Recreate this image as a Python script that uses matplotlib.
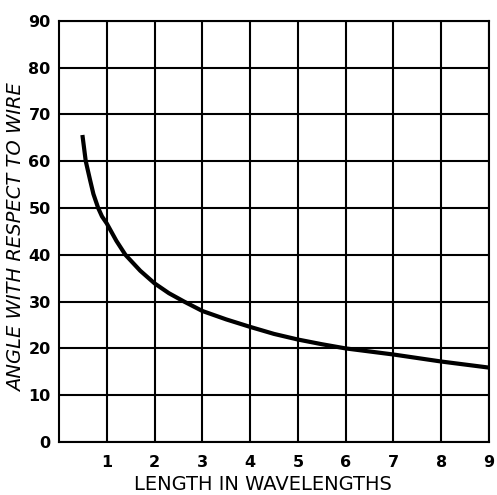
import matplotlib.pyplot as plt

# Values
length = [0.49, 0.56, 0.65, 0.72, 0.82, 0.9, 1.0, 1.2, 1.39, 1.7, 2.0, 2.3, 2.62, 3.0, 3.5, 4.0, 4.5, 5.0, 5.5, 6.0, 7.0, 8.0, 9.0]
angle = [65.6, 60.0, 56.0, 53.0, 50.0, 48.2, 46.7, 43.0, 40.0, 36.6, 33.9, 31.8, 30.0, 28.0, 26.2, 24.6, 23.1, 21.9, 20.9, 20.0, 18.7, 17.2, 15.9]

x_ticks = [1, 2, 3, 4, 5, 6, 7, 8, 9]
y_ticks = [0, 10, 20, 30, 40, 50, 60, 70, 80, 90]

fig = plt.figure(figsize=(4.97, 4.95), dpi=100)
ax = fig.add_axes([0.1187, 0.107, 0.8653, 0.851])

ax.plot(length, angle, color='black', linewidth=3, solid_capstyle='butt',
        solid_joinstyle='round')

ax.set_xlim(0, 9)
ax.set_ylim(0, 90)
ax.set_xticks(x_ticks)
ax.set_yticks(y_ticks)
ax.tick_params(length=0, labelsize=11.5)
ax.tick_params(axis='x', pad=9)
ax.tick_params(axis='y', pad=6)
for lab in ax.get_xticklabels() + ax.get_yticklabels():
    lab.set_fontweight('bold')

ax.grid(True, color='black', linewidth=1.5)
for s in ax.spines.values():
    s.set_linewidth(1.5)

# axis titles placed on the figure so they stay inside the canvas
fig.text(0.53, 1 - 484 / 495, 'LENGTH IN WAVELENGTHS', fontsize=14,
         ha='center', va='center')
fig.text(17 / 497, 1 - 238 / 495, 'ANGLE WITH RESPECT TO WIRE', fontsize=14,
         style='italic', rotation=90, ha='center', va='center')

fig.savefig('out.png', dpi=100)
